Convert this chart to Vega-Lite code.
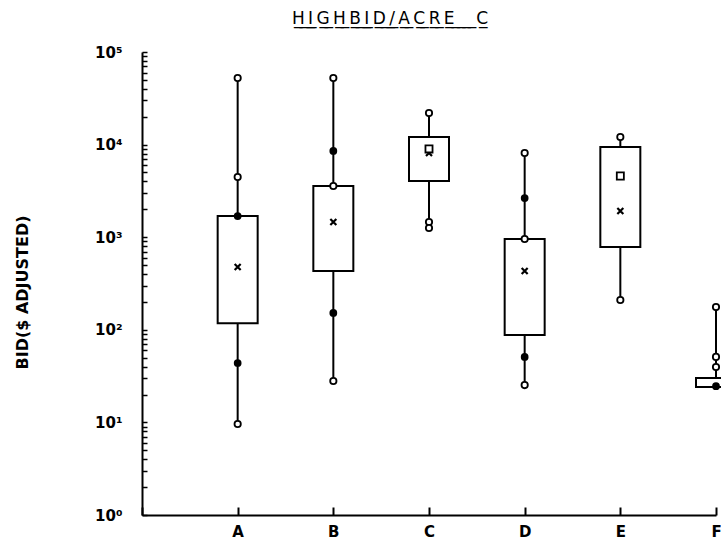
{
  "$schema": "https://vega.github.io/schema/vega-lite/v6.json",
  "width": 574,
  "height": 463,
  "autosize": "none",
  "padding": {"left": 142, "top": 52, "right": 5, "bottom": 29},
  "background": "white",
  "config": {
    "view": {"stroke": null},
    "font": "DejaVu Sans",
    "axis": {
      "domainColor": "black",
      "domainWidth": 2,
      "tickColor": "black",
      "tickWidth": 1.5,
      "labelColor": "black",
      "labelFont": "DejaVu Sans",
      "labelFontWeight": "bold",
      "titleColor": "black",
      "titleFont": "DejaVu Sans",
      "titleFontWeight": "bold",
      "grid": false
    }
  },
  "title": {
    "text": "H\u0332\u2009\u0332I\u0332\u2009\u0332G\u0332\u2009\u0332H\u0332\u2009\u0332B\u0332\u2009\u0332I\u0332\u2009\u0332D\u0332\u2009\u0332/\u0332\u2009\u0332A\u0332\u2009\u0332C\u0332\u2009\u0332R\u0332\u2009\u0332E\u0332 \u0332 \u0332 \u0332 \u0332C\u0332",
    "anchor": "middle",
    "dx": -39,
    "offset": 4,
    "baseline": "alphabetic",
    "font": "DejaVu Sans",
    "fontSize": 17,
    "fontWeight": "normal",
    "color": "black"
  },
  "datasets": {
    "boxes": [
      {"group": "A", "q1": 118, "q3": 1694},
      {"group": "B", "q1": 431, "q3": 3570},
      {"group": "C", "q1": 4045, "q3": 12080},
      {"group": "D", "q1": 88, "q3": 957},
      {"group": "E", "q1": 784, "q3": 9420},
      {"group": "F", "q1": 24.1, "q3": 30.2}
    ],
    "points": [
      {"group": "A", "stat": "open", "value": 52400},
      {"group": "A", "stat": "open", "value": 4467},
      {"group": "A", "stat": "solid", "value": 1694},
      {"group": "A", "stat": "mean", "value": 477},
      {"group": "A", "stat": "solid", "value": 43.8},
      {"group": "A", "stat": "open", "value": 9.6},
      {"group": "B", "stat": "open", "value": 52400},
      {"group": "B", "stat": "solid", "value": 8530},
      {"group": "B", "stat": "open", "value": 3570},
      {"group": "B", "stat": "mean", "value": 1460},
      {"group": "B", "stat": "solid", "value": 152},
      {"group": "B", "stat": "open", "value": 28},
      {"group": "C", "stat": "open", "value": 21900},
      {"group": "C", "stat": "mean", "value": 8120},
      {"group": "C", "stat": "median", "value": 8970},
      {"group": "C", "stat": "open", "value": 1460},
      {"group": "C", "stat": "open", "value": 1257},
      {"group": "D", "stat": "open", "value": 8120},
      {"group": "D", "stat": "solid", "value": 2650},
      {"group": "D", "stat": "open", "value": 957},
      {"group": "D", "stat": "mean", "value": 431},
      {"group": "D", "stat": "solid", "value": 51},
      {"group": "D", "stat": "open", "value": 25.3},
      {"group": "E", "stat": "open", "value": 12080},
      {"group": "E", "stat": "median", "value": 4580},
      {"group": "E", "stat": "mean", "value": 1920},
      {"group": "E", "stat": "open", "value": 210},
      {"group": "F", "stat": "open", "value": 176},
      {"group": "F", "stat": "open", "value": 51},
      {"group": "F", "stat": "open", "value": 39.7},
      {"group": "F", "stat": "solid", "value": 24.6}
    ]
  },
  "encoding": {
    "x": {
      "field": "group",
      "type": "ordinal",
      "scale": {"type": "point", "domain": ["", "A", "B", "C", "D", "E", "F"], "padding": 0},
      "axis": {
        "title": null,
        "labelAngle": 0,
        "tickSize": -8,
        "tickWidth": 2,
        "labelPadding": 17,
        "labelFontSize": 15
      }
    }
  },
  "layer": [
    {
      "data": {"name": "points"},
      "mark": {"type": "rule", "color": "black", "strokeWidth": 2},
      "encoding": {
        "y": {
          "aggregate": "min",
          "field": "value",
          "type": "quantitative",
          "title": "BID($ ADJUSTED)",
          "scale": {"type": "log", "domain": [1, 100000], "nice": false},
          "axis": {
            "values": [1, 2, 3, 4, 5, 6, 7, 8, 9, 10, 20, 30, 40, 50, 60, 70, 80, 90, 100, 200, 300, 400, 500, 600, 700, 800, 900, 1000, 2000, 3000, 4000, 5000, 6000, 7000, 8000, 9000, 10000, 20000, 30000, 40000, 50000, 60000, 70000, 80000, 90000, 100000],
            "labelExpr": "indexof([1, 10, 100, 1000, 10000, 100000], datum.value) >= 0 ? '10' + ['\u2070', '\u00b9', '\u00b2', '\u00b3', '\u2074', '\u2075'][round(log(datum.value) / LN10)] : ''",
            "labelOverlap": false,
            "labelFontSize": 15,
            "tickSize": -5,
            "labelPadding": 25,
            "titleX": -120,
            "titleY": 240,
            "titleAngle": 270,
            "titleAlign": "center",
            "titleBaseline": "middle",
            "titleFontSize": 16
          }
        },
        "y2": {"aggregate": "max", "field": "value"}
      }
    },
    {
      "data": {"name": "boxes"},
      "mark": {"type": "bar", "size": 40, "fill": "white", "stroke": "black", "strokeWidth": 2},
      "encoding": {
        "y": {"field": "q1", "type": "quantitative", "title": "BID($ ADJUSTED)"},
        "y2": {"field": "q3"}
      }
    },
    {
      "data": {"name": "points"},
      "transform": [{"filter": "datum.stat === 'open'"}],
      "mark": {"type": "point", "shape": "circle", "size": 40, "fill": "white", "fillOpacity": 1, "stroke": "black", "strokeWidth": 1.8},
      "encoding": {"y": {"field": "value", "type": "quantitative", "title": "BID($ ADJUSTED)"}}
    },
    {
      "data": {"name": "points"},
      "transform": [{"filter": "datum.stat === 'solid'"}],
      "mark": {"type": "point", "shape": "circle", "size": 60, "filled": true, "color": "black", "opacity": 1},
      "encoding": {"y": {"field": "value", "type": "quantitative", "title": "BID($ ADJUSTED)"}}
    },
    {
      "data": {"name": "points"},
      "transform": [{"filter": "datum.stat === 'mean'"}],
      "mark": {"type": "point", "shape": "M-1,-1L1,1M1,-1L-1,1", "size": 36, "filled": false, "stroke": "black", "strokeWidth": 2.2, "opacity": 1},
      "encoding": {"y": {"field": "value", "type": "quantitative", "title": "BID($ ADJUSTED)"}}
    },
    {
      "data": {"name": "points"},
      "transform": [{"filter": "datum.stat === 'median'"}],
      "mark": {"type": "point", "shape": "square", "size": 50, "fill": "white", "fillOpacity": 1, "stroke": "black", "strokeWidth": 1.8},
      "encoding": {"y": {"field": "value", "type": "quantitative", "title": "BID($ ADJUSTED)"}}
    }
  ]
}
